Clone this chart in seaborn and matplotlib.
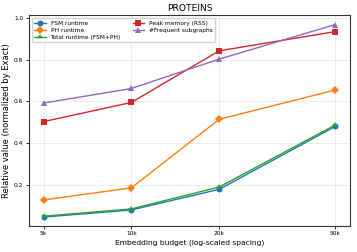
import numpy as np
import pandas as pd
import matplotlib
matplotlib.use("Agg")
import matplotlib.pyplot as plt
import seaborn as sns

budgets = [5000, 10000, 20000, 50000]
budget_labels = ["5k", "10k", "20k", "50k"]

fsm_runtime = [0.044, 0.078, 0.177, 0.479]
ph_runtime = [0.126, 0.184, 0.513, 0.654]
total_runtime = [0.048, 0.083, 0.188, 0.486]
peak_memory = [0.502, 0.594, 0.842, 0.934]
freq_subgraphs = [0.591, 0.661, 0.802, 0.968]

series = {
    "FSM runtime": fsm_runtime,
    "PH runtime": ph_runtime,
    "Total runtime (FSM+PH)": total_runtime,
    "Peak memory (RSS)": peak_memory,
    "#Frequent subgraphs": freq_subgraphs,
}
colors = ["#1f77b4", "#ff7f0e", "#2ca02c", "#d62728", "#9467bd"]
markers = ["o", "D", "*", "s", "^"]

rows = []
for name, vals in series.items():
    for b, v in zip(budgets, vals):
        rows.append({"budget": b, "value": v, "metric": name})
df = pd.DataFrame(rows)

fig = plt.figure(figsize=(3.57, 2.52), dpi=100)
ax = fig.add_axes([0.081, 0.104, 0.899, 0.835])

sns.lineplot(data=df, x="budget", y="value", hue="metric", style="metric",
             palette=dict(zip(series.keys(), colors)),
             markers=dict(zip(series.keys(), markers)),
             dashes=False, markersize=4.3, linewidth=1, markeredgewidth=0,
             ax=ax)

ax.set_xscale("log")
ax.set_xticks(budgets)
ax.set_xticklabels(budget_labels)
ax.minorticks_off()
ax.set_ylim(0.002, 1.012)
ax.set_yticks([0.2, 0.4, 0.6, 0.8, 1.0])
ax.tick_params(labelsize=4.2, length=2, width=0.6, pad=2)
ax.grid(True, color="#dddddd", linewidth=0.6, alpha=0.7)
for s in ax.spines.values():
    s.set_linewidth(0.8)
    s.set_color("#333333")

ax.set_title("PROTEINS", fontsize=6.6, pad=3)
ax.set_xlabel("Embedding budget (log-scaled spacing)", fontsize=5.4, labelpad=2)
ax.set_ylabel("Relative value (normalized by Exact)", fontsize=6.0, labelpad=2)

handles, labels = ax.get_legend_handles_labels()
ax.legend(handles, labels, loc="upper left", ncol=2, fontsize=4.2,
          frameon=True, framealpha=0.9, labelspacing=0.35,
          handlelength=2.0, columnspacing=2.0)

fig.savefig("out.png", dpi=100)
